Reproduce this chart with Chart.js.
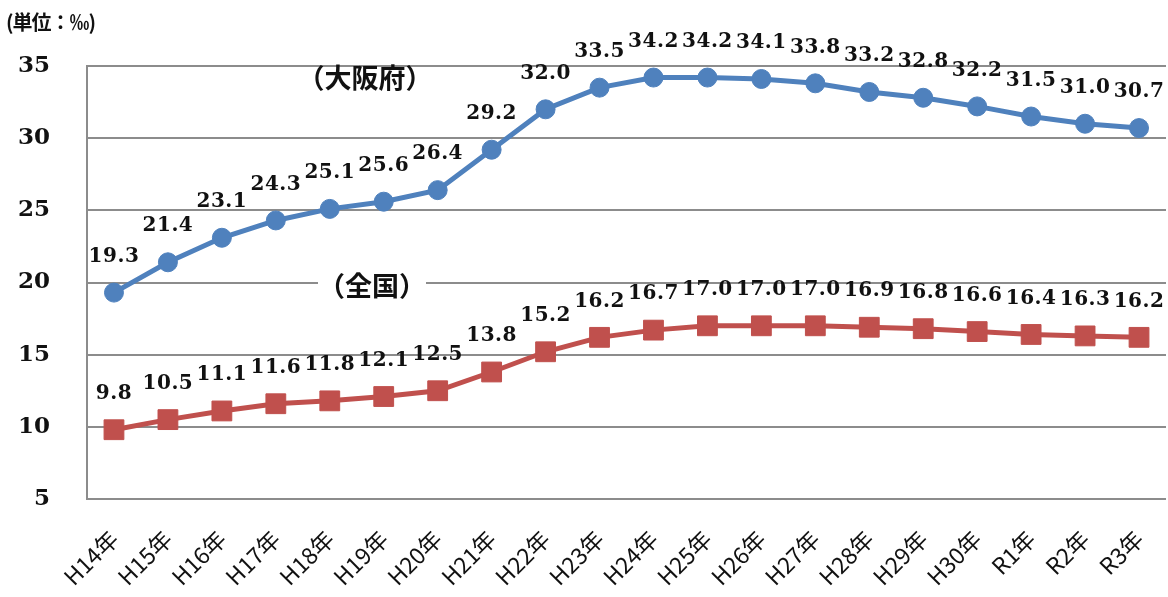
<!DOCTYPE html>
<html>
<head>
<meta charset="utf-8">
<script src="https://cdn.jsdelivr.net/npm/chart.js@4/dist/chart.umd.min.js"></script>
<style>
  html, body { margin: 0; padding: 0; background: #fff; }
  #wrap { position: relative; width: 1168px; height: 597px; }
</style>
</head>
<body>
<div id="wrap"><canvas id="c" width="1168" height="597"></canvas></div>
<script>
// Fiscal years (Heisei / Reiwa)
const years = ['H14年','H15年','H16年','H17年','H18年','H19年','H20年','H21年','H22年','H23年',
               'H24年','H25年','H26年','H27年','H28年','H29年','H30年','R1年','R2年','R3年'];
// Rates per mille
const osaka    = [19.3, 21.4, 23.1, 24.3, 25.1, 25.6, 26.4, 29.2, 32.0, 33.5,
                  34.2, 34.2, 34.1, 33.8, 33.2, 32.8, 32.2, 31.5, 31.0, 30.7];
const national = [9.8, 10.5, 11.1, 11.6, 11.8, 12.1, 12.5, 13.8, 15.2, 16.2,
                  16.7, 17.0, 17.0, 17.0, 16.9, 16.8, 16.6, 16.4, 16.3, 16.2];
const yTicks   = [5, 10, 15, 20, 25, 30, 35];

const BLUE = '#4F81BD';
const RED  = '#C0504D';
const GRID = '#8c8c8c';

// Value labels above each point
const valueLabels = {
  id: 'valueLabels',
  afterDatasetsDraw(chart) {
    const ctx = chart.ctx;
    ctx.save();
    ctx.font = 'bold 20px "DejaVu Serif"';
    ctx.letterSpacing = '0.5px';
    ctx.fillStyle = '#111';
    ctx.textAlign = 'center';
    ctx.textBaseline = 'middle';
    chart.data.datasets.forEach((ds, di) => {
      const meta = chart.getDatasetMeta(di);
      meta.data.forEach((pt, i) => {
        ctx.fillText(ds.data[i].toFixed(1), pt.x, pt.y - 36);
      });
    });
    ctx.restore();
  }
};

// Unit caption and series names
const captions = {
  id: 'captions',
  afterDraw(chart) {
    const ctx = chart.ctx;
    const a = chart.chartArea;
    ctx.save();
    ctx.fillStyle = '#111';
    ctx.textBaseline = 'middle';
    ctx.textAlign = 'left';
    ctx.font = 'bold 20px "Noto Sans CJK JP"';
    ctx.letterSpacing = '-1px';
    ctx.fillText('(単位：‰)', 6, 22);
    ctx.letterSpacing = '0px';

    ctx.font = 'bold 27px "Noto Sans CJK JP"';
    ctx.textAlign = 'center';
    // [text, x, y, knock out the grid behind it]
    const names = [['（大阪府）', a.left + 278, 78, false], ['（全国）', a.left + 285, 286, true]];
    names.forEach(([t, x, y, box]) => {
      if (box) {
        const w = ctx.measureText(t).width;
        ctx.fillStyle = '#fff';
        ctx.fillRect(x - w / 2, y - 11, w, 22);
      }
      ctx.fillStyle = '#111';
      ctx.fillText(t, x, y);
    });
    ctx.restore();
  }
};

new Chart(document.getElementById('c'), {
  type: 'line',
  data: {
    labels: years,
    datasets: [
      {
        label: '大阪府',
        data: osaka,
        borderColor: BLUE,
        backgroundColor: BLUE,
        borderWidth: 5,
        pointStyle: 'circle',
        pointRadius: 9.5,
        pointHoverRadius: 9.5,
        pointBorderWidth: 1,
        tension: 0
      },
      {
        label: '全国',
        data: national,
        borderColor: RED,
        backgroundColor: RED,
        borderWidth: 5,
        pointStyle: 'rect',
        pointRadius: 14,
        pointHoverRadius: 14,
        pointBorderWidth: 1,
        tension: 0
      }
    ]
  },
  options: {
    responsive: false,
    animation: false,
    layout: { autoPadding: false, padding: { top: 66, right: 2, left: 0, bottom: 0 } },
    plugins: {
      legend: { display: false },
      tooltip: { enabled: false }
    },
    scales: {
      x: {
        offset: true,
        afterFit(scale) {
          scale.height = 98;
          scale.paddingLeft = 0;
          scale.paddingRight = 0;
        },
        grid: { display: false, drawTicks: false },
        border: { display: false },
        ticks: {
          color: '#111',
          font: { family: '"Noto Sans CJK JP"', size: 23 },
          maxRotation: 45,
          minRotation: 45,
          padding: 26,
          autoSkip: false
        }
      },
      y: {
        min: 5,
        max: 35,
        afterBuildTicks(scale) { scale.ticks = yTicks.map(v => ({ value: v })); },
        afterFit(scale) { scale.width = 87; },
        grid: { color: GRID, lineWidth: 2, drawTicks: false },
        border: { color: GRID, width: 2 },
        ticks: {
          color: '#111',
          font: { family: '"DejaVu Serif"', size: 23, weight: 'bold' },
          padding: 37
        }
      }
    }
  },
  plugins: [valueLabels, captions]
});
</script>
</body>
</html>
